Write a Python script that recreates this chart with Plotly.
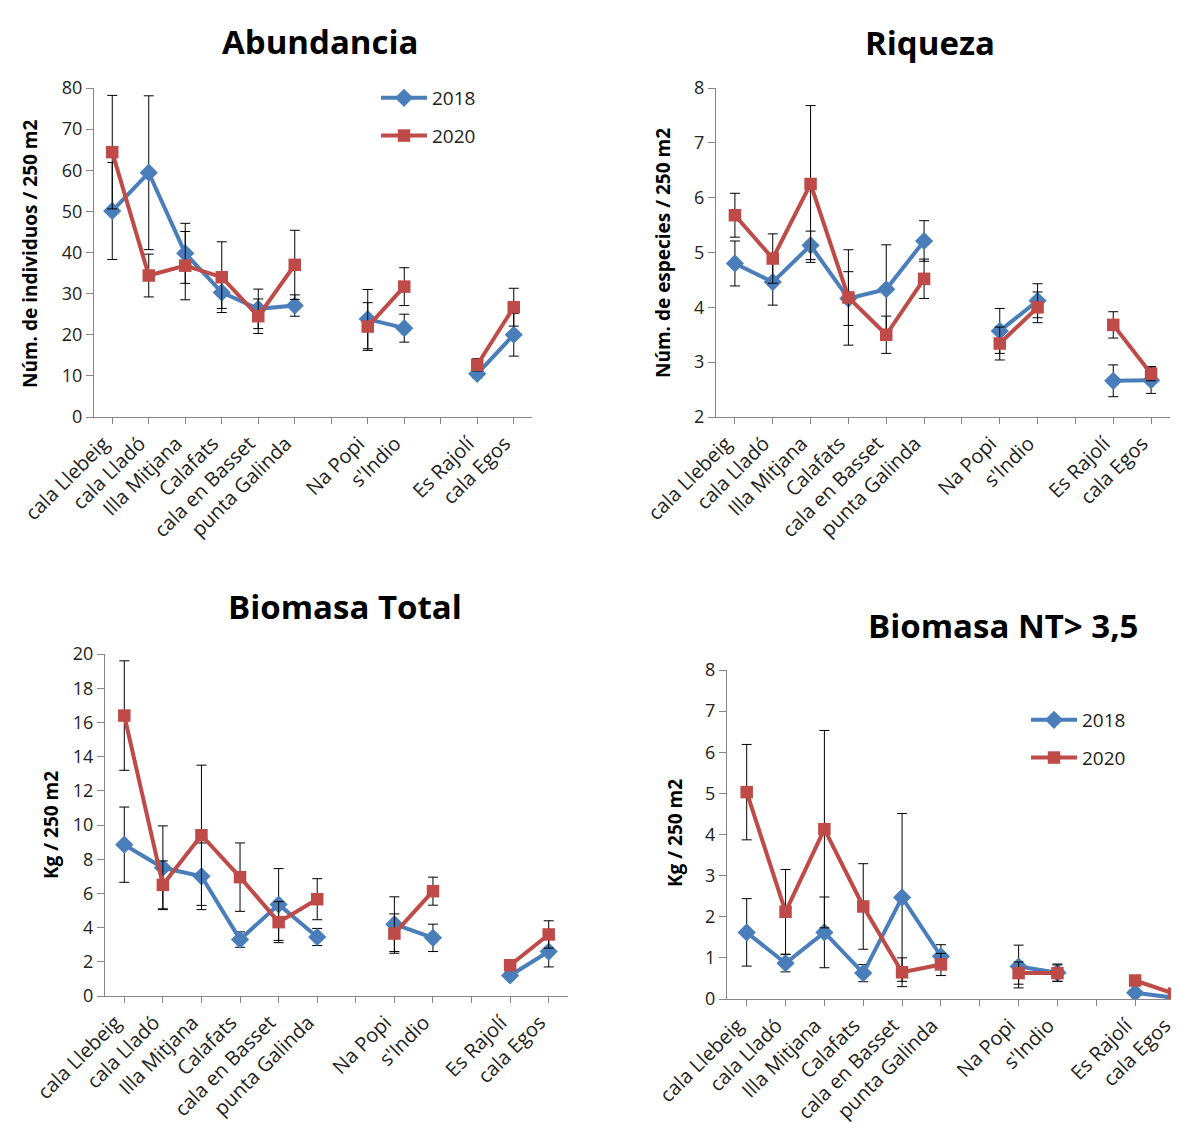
import plotly.graph_objects as go

W, H = 1179, 1124

categories = ["cala Llebeig", "cala Lladó", "Illa Mitjana", "Calafats", "cala en Basset",
              "punta Galinda", "", "Na Popi", "s'Indio", "", "Es Rajolí", "cala Egos"]

# Abundancia
ab_2018 = [50.1, 59.4, 39.8, 30.3, 26.3, 27.1, None, 23.8, 21.6, None, 10.5, 20.0]
ab_2018_err = [11.8, 18.7, 7.3, 3.9, 4.8, 2.6, None, 7.2, 3.4, None, 1.0, 5.2]
ab_2020 = [64.4, 34.4, 36.8, 34.0, 24.5, 37.0, None, 22.0, 31.7, None, 12.7, 26.7]
ab_2020_err = [13.8, 5.2, 8.3, 8.6, 4.2, 8.4, None, 5.8, 4.6, None, 1.5, 4.6]

# Riqueza
ri_2018 = [4.80, 4.46, 5.13, 4.16, 4.33, 5.21, None, 3.57, 4.12, None, 2.66, 2.67]
ri_2018_err = [0.41, 0.42, 0.26, 0.49, 0.81, 0.37, None, 0.41, 0.31, None, 0.29, 0.24]
ri_2020 = [5.68, 4.89, 6.25, 4.18, 3.50, 4.52, None, 3.34, 4.00, None, 3.68, 2.79]
ri_2020_err = [0.40, 0.45, 1.43, 0.87, 0.34, 0.36, None, 0.30, 0.28, None, 0.24, 0.13]

# Biomasa Total
bt_2018 = [8.85, 7.5, 7.0, 3.3, 5.35, 3.45, None, 4.2, 3.4, None, 1.2, 2.6]
bt_2018_err = [2.2, 2.45, 1.95, 0.45, 2.1, 0.5, None, 1.6, 0.8, None, 0.2, 0.9]
bt_2020 = [16.4, 6.5, 9.4, 6.95, 4.32, 5.66, None, 3.65, 6.13, None, 1.8, 3.6]
bt_2020_err = [3.2, 1.4, 4.1, 2.0, 1.2, 1.2, None, 1.15, 0.82, None, 0.3, 0.8]

# Biomasa NT > 3,5
nt_2018 = [1.62, 0.87, 1.62, 0.63, 2.47, 1.04, None, 0.79, 0.64, None, 0.15, 0.03]
nt_2018_err = [0.82, 0.21, 0.86, 0.21, 2.04, 0.28, None, 0.52, 0.21, None, 0.05, 0.03]
nt_2020 = [5.03, 2.12, 4.13, 2.25, 0.65, 0.84, None, 0.63, 0.63, None, 0.45, 0.13]
nt_2020_err = [1.16, 1.03, 2.4, 1.04, 0.35, 0.27, None, 0.27, 0.2, None, 0.05, 0.05]

years = ["2018", "2020"]
titles = ["Abundancia", "Riqueza", "Biomasa Total", "Biomasa NT> 3,5"]
ytitles = ["Núm. de individuos / 250 m2", "Núm. de especies / 250 m2", "Kg / 250 m2", "Kg / 250 m2"]

BLUE = "#4A7EBB"
RED = "#BE4B48"
FONT = "Open Sans"
TXT = "#222222"
AX = "#868686"

xs = list(range(len(categories)))

panels = [
    dict(s18=ab_2018, e18=ab_2018_err, s20=ab_2020, e20=ab_2020_err,
         px=(86, 524), py=(80, 409), xr=[-0.5, 11.5], yr=[0, 80], dt=10,
         title=(312, 33), ytl=(22, 246), legend="legend"),
    dict(s18=ri_2018, e18=ri_2018_err, s20=ri_2020, e20=ri_2020_err,
         px=(708, 1162), py=(80, 409), xr=[-0.5, 11.5], yr=[2, 8], dt=1,
         title=(922, 35), ytl=(655, 245), legend=None),
    dict(s18=bt_2018, e18=bt_2018_err, s20=bt_2020, e20=bt_2020_err,
         px=(97, 560), py=(646, 988), xr=[-0.5, 11.5], yr=[0, 20], dt=2,
         title=(337, 598), ytl=(43, 817), legend=None),
    dict(s18=nt_2018, e18=nt_2018_err, s20=nt_2020, e20=nt_2020_err,
         px=(719, 1179), py=(662, 991), xr=[-0.507, 11.335], yr=[0, 8], dt=1,
         title=(995, 617), ytl=(667, 825), legend="legend2"),
]

fig = go.Figure()
annotations = []

for i, p in enumerate(panels, start=1):
    xa = "x" if i == 1 else f"x{i}"
    ya = "y" if i == 1 else f"y{i}"
    for yr_name, vals, err, col, sym, sz in [
        ("2018", p["s18"], p["e18"], BLUE, "diamond", 14),
        ("2020", p["s20"], p["e20"], RED, "square", 12.5),
    ]:
        fig.add_trace(go.Scatter(
            x=xs, y=vals, name=yr_name, mode="lines+markers",
            line=dict(color=col, width=4),
            marker=dict(symbol=sym, size=sz, color=col),
            error_y=dict(type="data", array=err, visible=True, color="black",
                         thickness=1, width=5),
            connectgaps=False, xaxis=xa, yaxis=ya,
            showlegend=p["legend"] is not None,
            legend=p["legend"] if p["legend"] else "legend",
            legendgroup=f"{yr_name}_{i}",
        ))
    xkey = "xaxis" if i == 1 else f"xaxis{i}"
    ykey = "yaxis" if i == 1 else f"yaxis{i}"
    fig.update_layout(**{
        xkey: dict(domain=[p["px"][0] / W, p["px"][1] / W], anchor=ya, automargin=False,
                   range=p["xr"], tickmode="array", tickvals=xs, ticktext=categories,
                   tickangle=-45, ticks="outside", ticklen=6, tickcolor=AX,
                   ticklabelshift=-9,
                   showline=True, linecolor=AX, linewidth=1, showgrid=False,
                   zeroline=False, tickfont=dict(family=FONT, size=20, color=TXT)),
        ykey: dict(domain=[1 - p["py"][1] / H, 1 - p["py"][0] / H], anchor=xa, automargin=False,
                   range=p["yr"], dtick=p["dt"], tick0=p["yr"][0],
                   ticks="outside", ticklen=7, tickcolor=AX,
                   showline=True, linecolor=AX, linewidth=1, showgrid=False,
                   zeroline=False, tickfont=dict(family=FONT, size=18, color=TXT)),
    })
    annotations.append(dict(
        text=f"<b>{titles[i-1]}</b>", x=p["title"][0] / W, y=1 - p["title"][1] / H,
        xref="paper", yref="paper", xanchor="center", yanchor="middle",
        showarrow=False, font=dict(family=FONT, size=33, color="black")))
    annotations.append(dict(
        text=f"<b>{ytitles[i-1]}</b>", x=p["ytl"][0] / W, y=1 - p["ytl"][1] / H,
        xref="paper", yref="paper", xanchor="center", yanchor="middle",
        textangle=-90, showarrow=False, font=dict(family=FONT, size=19, color="black")))

leg_common = dict(bgcolor="rgba(0,0,0,0)", borderwidth=0, xanchor="left", yanchor="top",
                  font=dict(family=FONT, size=19, color=TXT), tracegroupgap=10,
                  itemwidth=46)

fig.update_layout(
    width=W, height=H, margin=dict(l=0, r=0, t=0, b=0, autoexpand=False),
    paper_bgcolor="white", plot_bgcolor="white",
    showlegend=True,
    annotations=annotations,
    legend=dict(x=368 / W, y=1 - 71 / H, **leg_common),
    legend2=dict(x=1018 / W, y=1 - 693 / H, **leg_common),
)

fig.write_html("out.html")
